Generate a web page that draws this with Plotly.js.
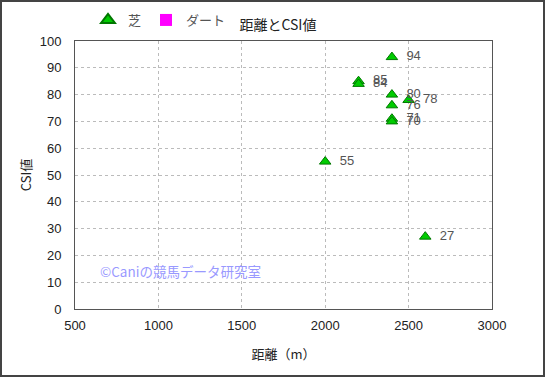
<!DOCTYPE html>
<html>
<head>
<meta charset="utf-8">
<script src="https://cdn.plot.ly/plotly-3.0.1.min.js"></script>
<style>html,body{margin:0;padding:0;background:#fff;}#chart{width:545px;height:377px;}</style>
</head>
<body>
<div id="chart"></div>
<script>
const turfDistance = [2400, 2200, 2200, 2400, 2500, 2400, 2400, 2400, 2000, 2600];
const turfCSI      = [94,   85,   84,   80,   78,   76,   71,   70,   55,   27];
const dirtDistance = [null];
const dirtCSI      = [null];
const seriesNames = ['芝', 'ダート'];

const F = '"Liberation Sans", "Noto Sans CJK JP", sans-serif';
const FJ = '"Noto Sans CJK JP", sans-serif';
const L = 75, R = 53, T = 41, B = 68;
const PW = 545 - L - R, PH = 377 - T - B;

const traces = [
  {
    type: 'scatter', mode: 'markers+text', name: seriesNames[0],
    x: turfDistance, y: turfCSI,
    text: turfCSI.map(v => '  ' + v), textposition: 'middle right',
    textfont: {family: F, size: 13, color: '#555'},
    marker: {symbol: 'triangle-up', size: 10, color: '#00cc00', line: {color: '#007700', width: 1}},
    cliponaxis: false
  },
  {
    type: 'scatter', mode: 'markers', name: seriesNames[1],
    x: dirtDistance, y: dirtCSI,
    marker: {symbol: 'square', size: 9, color: '#ff00ff', line: {width: 0}}
  }
];

const layout = {
  width: 545, height: 377,
  margin: {l: L, r: R, t: T, b: B, pad: 0, autoexpand: false},
  paper_bgcolor: '#fff', plot_bgcolor: '#fff',
  font: {family: F, size: 12, color: '#222'},
  title: {text: '距離とCSI値', x: 0.51, xref: 'container', y: 1 - 25/377, yanchor: 'middle', font: {family: FJ, size: 14, color: '#222'}},
  showlegend: true,
  legend: {orientation: 'h', xref: 'container', yref: 'container', x: 88/545, xanchor: 'left', y: 1 - 20/377, yanchor: 'middle',
           font: {family: FJ, size: 13, color: '#555'}, tracegroupgap: 0,
           bgcolor: 'rgba(0,0,0,0)', itemsizing: 'constant'},
  xaxis: {
    range: [500, 3000], tick0: 500, dtick: 500, showgrid: true, gridcolor: '#bbb', griddash: 'dot', gridwidth: 1,
    zeroline: false, showline: true, linecolor: '#555', linewidth: 1, mirror: true, ticks: '', automargin: false,
    tickfont: {family: F, size: 13, color: '#222'}, ticklabelstandoff: 4,
    title: {text: '距離（m）', font: {family: FJ, size: 13, color: '#222'}, standoff: 18}
  },
  yaxis: {
    range: [0, 100], tick0: 0, dtick: 10, showgrid: true, gridcolor: '#bbb', griddash: 'dot', gridwidth: 1,
    zeroline: false, showline: true, linecolor: '#555', linewidth: 1, mirror: true, ticks: '', automargin: false,
    tickfont: {family: F, size: 13, color: '#222'}, ticklabelstandoff: 10,
    title: {text: 'CSI値', font: {family: FJ, size: 13, color: '#222'}, standoff: 5}
  },
  annotations: [
    {text: '©Caniの競馬データ研究室', x: 640, y: 14, xref: 'x', yref: 'y', xanchor: 'left', yanchor: 'middle',
     showarrow: false, font: {family: FJ, size: 13.5, color: '#9999ff'}}
  ],
  shapes: [
    {type: 'rect', xref: 'paper', yref: 'paper', x0: (1 - L)/PW, x1: (544 - L)/PW, y0: -(376 - (377 - B))/PH, y1: (377 - B - 1)/PH,
     line: {color: '#444', width: 2}, fillcolor: 'rgba(0,0,0,0)', layer: 'above'}
  ]
};

Plotly.newPlot('chart', traces, layout, {displayModeBar: false, staticPlot: true});
</script>
</body>
</html>
